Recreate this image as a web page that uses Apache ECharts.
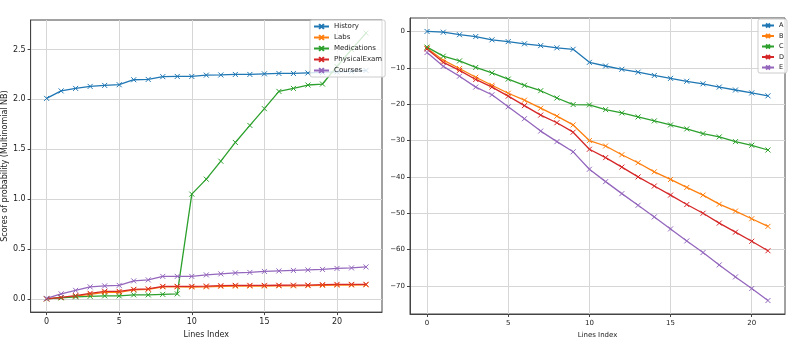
<!DOCTYPE html>
<html><head><meta charset="utf-8">
<script src="https://cdn.jsdelivr.net/npm/echarts@6/dist/echarts.min.js"></script>
<style>html,body{margin:0;padding:0;background:#fff}#c{width:792px;height:344px}</style>
</head><body><div id="c"></div>
<script>
// Left chart data (index 0..22)
const leftIndex = [0,1,2,3,4,5,6,7,8,9,10,11,12,13,14,15,16,17,18,19,20,21,22];
const history = [2.01,2.085,2.11,2.13,2.14,2.147,2.197,2.20,2.228,2.23,2.23,2.243,2.245,2.25,2.25,2.256,2.26,2.26,2.265,2.27,2.275,2.28,2.29];
const labs = [0,0.012,0.028,0.045,0.065,0.065,0.09,0.095,0.12,0.12,0.118,0.12,0.125,0.127,0.128,0.128,0.13,0.13,0.132,0.135,0.137,0.138,0.14];
const medications = [0,0.01,0.02,0.025,0.03,0.03,0.04,0.04,0.045,0.05,1.05,1.20,1.38,1.568,1.739,1.907,2.08,2.11,2.144,2.154,2.33,2.50,2.665];
const physicalExam = [0,0.015,0.032,0.055,0.075,0.075,0.095,0.10,0.125,0.125,0.125,0.128,0.132,0.135,0.135,0.135,0.136,0.137,0.138,0.142,0.145,0.145,0.146];
const courses = [0.005,0.05,0.085,0.12,0.13,0.135,0.18,0.19,0.225,0.225,0.225,0.24,0.25,0.26,0.265,0.275,0.28,0.285,0.29,0.295,0.305,0.31,0.32];
const leftNames = ['History','Labs','Medications','PhysicalExam','Courses'];

// Right chart data (index 0..21)
const rightIndex = [0,1,2,3,4,5,6,7,8,9,10,11,12,13,14,15,16,17,18,19,20,21];
const seriesA = [0,-0.2,-0.9,-1.4,-2.3,-2.8,-3.4,-3.9,-4.5,-4.9,-8.5,-9.5,-10.4,-11.2,-12.1,-12.9,-13.7,-14.4,-15.3,-16.1,-16.9,-17.7];
const seriesB = [-4.6,-7.9,-10.2,-12.6,-14.8,-17.0,-18.9,-21.1,-23.3,-25.7,-30.0,-31.5,-33.9,-36.1,-38.6,-40.7,-42.9,-45.0,-47.5,-49.4,-51.5,-53.6];
const seriesC = [-4.3,-6.8,-8.1,-9.9,-11.4,-13.1,-14.8,-16.3,-18.3,-20.1,-20.2,-21.5,-22.4,-23.5,-24.6,-25.7,-26.8,-28.1,-29.0,-30.3,-31.3,-32.6];
const seriesD = [-4.8,-8.5,-10.7,-13.2,-15.3,-17.8,-20.4,-23.0,-25.1,-27.7,-32.4,-34.7,-37.3,-40.0,-42.5,-45.0,-47.6,-50.0,-52.7,-55.2,-57.7,-60.3];
const seriesE = [-5.8,-9.6,-12.3,-15.3,-17.4,-20.7,-24.0,-27.4,-30.3,-33.1,-37.9,-41.3,-44.6,-47.8,-51.0,-54.3,-57.6,-60.8,-64.2,-67.5,-70.7,-74.0];
const rightNames = ['A','B','C','D','E'];

const leftXTicks = [0,5,10,15,20];
const leftYTicks = [0,0.5,1.0,1.5,2.0,2.5];
const rightXTicks = [0,5,10,15,20];
const rightYTicks = [0,-10,-20,-30,-40,-50,-60,-70];

const colors = ['#1f77b4','#ff7f0e','#2ca02c','#d62728','#9467bd'];
const FONT = 'DejaVu Sans';
const X_SYMBOL = 'path://M0,0L10,10M10,0L0,10';

function pairs(xs, ys){ return xs.map((x,i)=>[x, ys[i]]); }

function mkSeries(name, xs, ys, color, xi, yi, size){
  return {
    name, type:'line', xAxisIndex:xi, yAxisIndex:yi,
    data: pairs(xs, ys),
    symbol: X_SYMBOL, symbolSize: size, showSymbol:true,
    lineStyle:{color, width:1.3},
    itemStyle:{color:'rgba(0,0,0,0)', borderColor:color, borderWidth:1},
    emphasis:{disabled:true}, animation:false
  };
}

function mkXAxis(gi, min, max, ticks, fs){
  return {
    type:'value', gridIndex:gi, min, max, name:'Lines Index',
    nameLocation:'middle', nameGap:18,
    nameTextStyle:{fontFamily:FONT, fontSize:fs, color:'#222'},
    axisLine:{show:true, onZero:false, lineStyle:{color:'#444', width:1}},
    axisTick:{show:true, length:3, customValues:ticks, lineStyle:{color:'#444'}},
    axisLabel:{customValues:ticks, fontFamily:FONT, fontSize:fs, color:'#222', margin:6},
    splitLine:{show:true, lineStyle:{color:'#d6d6d6', width:1}}
  };
}
function mkYAxis(gi, min, max, ticks, fs, name, fmt){
  return {
    type:'value', gridIndex:gi, min, max, name:name||'',
    nameLocation:'middle', nameGap:20,
    nameTextStyle:{fontFamily:FONT, fontSize:fs, color:'#222'},
    axisLine:{show:true, onZero:false, lineStyle:{color:'#444', width:1}},
    axisTick:{show:true, length:3, customValues:ticks, lineStyle:{color:'#444'}},
    axisLabel:{customValues:ticks, fontFamily:FONT, fontSize:fs, color:'#222', margin:5, formatter:fmt},
    splitLine:{show:true, lineStyle:{color:'#d6d6d6', width:1}}
  };
}

const chart = echarts.init(document.getElementById('c'), null, {renderer:'canvas'});
const leftData = [history, labs, medications, physicalExam, courses];
const rightData = [seriesA, seriesB, seriesC, seriesD, seriesE];
const series = [];
leftNames.forEach((n,i)=>series.push(mkSeries(n, leftIndex, leftData[i], colors[i], 0, 0, 5)));
rightNames.forEach((n,i)=>series.push(mkSeries(n, rightIndex, rightData[i], colors[i], 1, 1, 5)));

chart.setOption({
  animation:false,
  backgroundColor:'#fff',
  grid:[
    {left:30, top:20, width:352, height:296, show:true, borderColor:'#444', borderWidth:1, backgroundColor:'transparent'},
    {left:410, top:18, width:375, height:296, show:true, borderColor:'#444', borderWidth:1, backgroundColor:'transparent'}
  ],
  xAxis:[
    mkXAxis(0, -1.1, 23.1, leftXTicks, 8),
    mkXAxis(1, -1.05, 22.05, rightXTicks, 7)
  ],
  yAxis:[
    mkYAxis(0, -0.133, 2.796, leftYTicks, 8, 'Scores of probability (Multinomial NB)', v=>v.toFixed(1)),
    mkYAxis(1, -77.7, 3.7, rightYTicks, 7, '', v=>String(Math.round(v)).replace('-','\u2212'))
  ],
  legend:[
    {data:leftNames, orient:'vertical', left:310, top:20, itemWidth:15, itemHeight:6, itemGap:4,
     padding:[3,3,3,3], backgroundColor:'rgba(255,255,255,0.8)', borderColor:'#ccc', borderWidth:1, borderRadius:2,
     textStyle:{fontFamily:FONT, fontSize:7, color:'#222'}},
    {data:rightNames, orient:'vertical', left:758, top:19, itemGap:3.5, itemWidth:12, itemHeight:5,
     padding:[3,3,2,3], backgroundColor:'rgba(255,255,255,0.8)', borderColor:'#ccc', borderWidth:1, borderRadius:2,
     textStyle:{fontFamily:FONT, fontSize:6.5, color:'#222'}}
  ],
  series
});
</script></body></html>
